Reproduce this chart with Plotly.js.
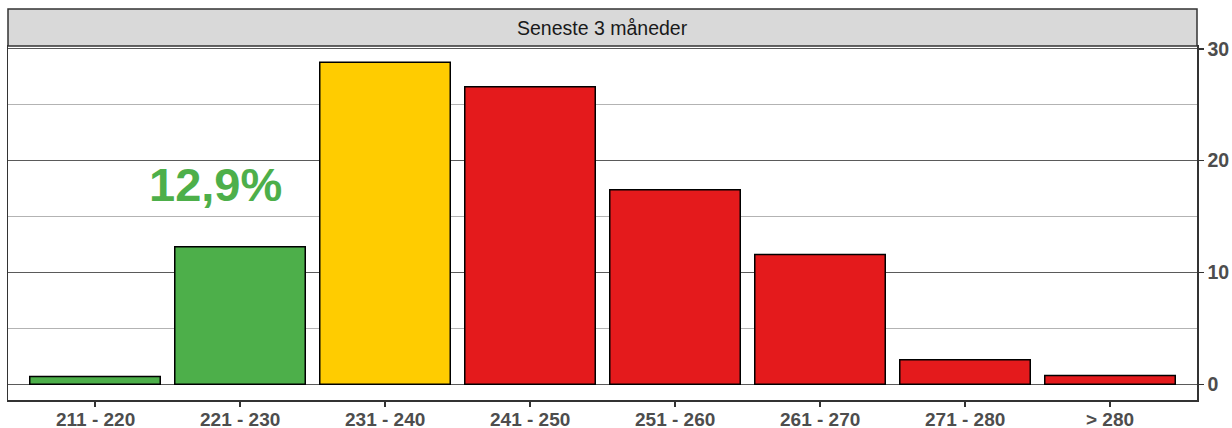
<!DOCTYPE html>
<html>
<head>
<meta charset="utf-8">
<script src="https://cdn.plot.ly/plotly-3.0.1.min.js"></script>
<style>html,body{margin:0;padding:0;background:#fff;}#chart{width:1232px;height:428px;}</style>
</head>
<body>
<div id="chart"></div>
<script>
const categories = ["211 - 220", "221 - 230", "231 - 240", "241 - 250", "251 - 260", "261 - 270", "271 - 280", "> 280"];
const values = [0.7, 12.3, 28.8, 26.6, 17.4, 11.6, 2.2, 0.8];
const barColors = ["#4DAF4A", "#4DAF4A", "#FFCC00", "#E41A1C", "#E41A1C", "#E41A1C", "#E41A1C", "#E41A1C"];
const panelTitle = "Seneste 3 måneder";
const labelText = "12,9%";
const yTicks = [0, 10, 20, 30];

const FONT = "Liberation Sans, Arial, Helvetica, sans-serif";

const trace = {
  type: "bar",
  x: categories,
  y: values,
  width: 0.9,
  marker: { color: barColors, line: { color: "#000000", width: 1.5 } },
  hoverinfo: "skip"
};

// x tick labels drawn as annotations on the category axis (positioned by the axis scale)
const xLabelAnnotations = categories.map(c => ({
  text: c,
  xref: "x", yref: "paper",
  x: c, y: -19.3 / 354,
  xanchor: "center", yanchor: "middle",
  showarrow: false,
  font: { family: FONT, size: 19, color: "#4D4D4D", weight: "bold" }
}));

const layout = {
  width: 1232,
  height: 428,
  margin: { l: 8, r: 35, t: 46, b: 28, pad: 0 },
  paper_bgcolor: "#ffffff",
  plot_bgcolor: "#ffffff",
  showlegend: false,
  bargap: 0.1,
  font: { family: FONT },
  xaxis: {
    type: "category",
    range: [-0.6, 7.6],
    showgrid: false,
    zeroline: false,
    showline: true,
    mirror: true,
    linecolor: "#333333",
    linewidth: 1.5,
    ticks: "outside",
    ticklen: 5,
    tickwidth: 1.5,
    tickcolor: "#333333",
    showticklabels: false,
    fixedrange: true
  },
  yaxis: {
    side: "right",
    range: [-1.4, 30.25],
    tickvals: yTicks,
    ticktext: yTicks.map(String),
    showgrid: true,
    gridcolor: "#5a5a5a",
    gridwidth: 1.3,
    zeroline: false,
    showline: true,
    mirror: true,
    linecolor: "#333333",
    linewidth: 1.5,
    ticks: "outside",
    ticklen: 5,
    tickwidth: 1.5,
    tickcolor: "#333333",
    tickfont: { family: FONT, size: 19.5, color: "#4D4D4D", weight: "bold" },
    minor: { dtick: 5, tick0: 0, showgrid: true, gridcolor: "#b3b3b3", gridwidth: 1 },
    fixedrange: true
  },
  shapes: [
    {
      type: "rect", xref: "paper", yref: "paper",
      x0: 0, x1: 1, y0: 1, y1: 1 + 37 / 354,
      fillcolor: "#D9D9D9",
      line: { color: "#333333", width: 1.5 },
      layer: "above"
    }
  ],
  annotations: [
    {
      text: panelTitle,
      xref: "paper", yref: "paper",
      x: 0.5, y: 1 + 18.5 / 354,
      xanchor: "center", yanchor: "middle",
      showarrow: false,
      font: { family: FONT, size: 19.5, color: "#1A1A1A" }
    },
    {
      text: labelText,
      xref: "x", yref: "y",
      x: 0.83, y: 17.9,
      xanchor: "center", yanchor: "middle",
      showarrow: false,
      font: { family: FONT, size: 47, color: "#4DAF4A", weight: "bold" }
    }
  ].concat(xLabelAnnotations)
};

Plotly.newPlot("chart", [trace], layout, { displayModeBar: false, staticPlot: true });
</script>
</body>
</html>
